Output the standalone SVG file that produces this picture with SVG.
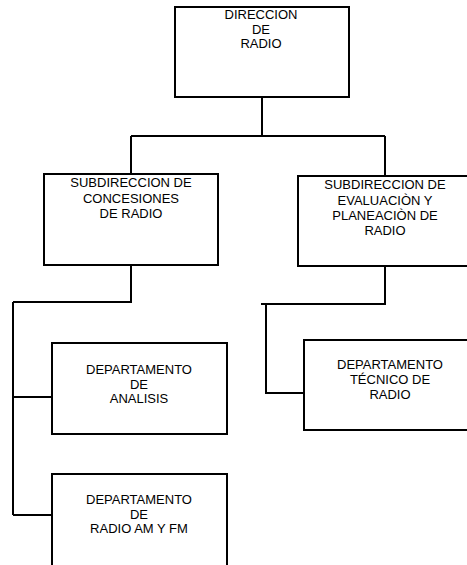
<svg xmlns="http://www.w3.org/2000/svg" width="467" height="565" viewBox="0 0 467 565">
<style>
rect{fill:#fff;stroke:#000;stroke-width:2}
.c path{fill:none;stroke:#000;stroke-width:2}
text{font-family:"Liberation Sans",Arial,sans-serif;font-size:13px;fill:#000;text-anchor:middle}
</style>
<rect x="0" y="0" width="467" height="565" style="stroke:none"/>
<g class="c" id="connectors">
<path d="M262 97V136M131 136H385M131 136V174M385 136V176"/>
<path d="M131 265V302H13M13 302V515M13 397H52M13 515H52"/>
<path d="M385 266V304H261M266 304V393H304"/>
</g>
<g id="n1"><rect x="175" y="7" width="174" height="90"/>
<text x="261" y="19">DIRECCION</text><text x="261" y="34">DE</text><text x="261" y="48">RADIO</text></g>
<g id="n2"><rect x="44" y="174" width="174" height="91"/>
<text x="131" y="187">SUBDIRECCION DE</text><text x="131" y="203">CONCESIONES</text><text x="131" y="218">DE RADIO</text></g>
<g id="n3"><rect x="298" y="176" width="175" height="90"/>
<text x="385" y="189">SUBDIRECCION DE</text><text x="385" y="205">EVALUACIÒN Y</text><text x="385" y="220">PLANEACIÒN DE</text><text x="385" y="235">RADIO</text></g>
<g id="n4"><rect x="52" y="343" width="175" height="91"/>
<text x="139" y="374">DEPARTAMENTO</text><text x="139" y="389">DE</text><text x="139" y="403">ANALISIS</text></g>
<g id="n5"><rect x="304" y="340" width="170" height="90"/>
<text x="390" y="369">DEPARTAMENTO</text><text x="390" y="384">TÉCNICO DE</text><text x="390" y="399">RADIO</text></g>
<g id="n6"><rect x="52" y="474" width="175" height="100"/>
<text x="139" y="504">DEPARTAMENTO</text><text x="139" y="519">DE</text><text x="139" y="533">RADIO AM Y FM</text></g>
</svg>
